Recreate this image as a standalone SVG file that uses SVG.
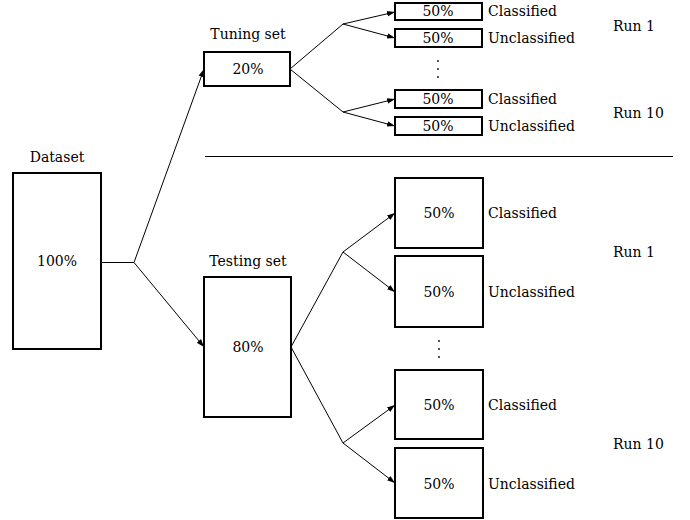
<svg xmlns="http://www.w3.org/2000/svg" width="690" height="520" viewBox="0 0 690 520">
<style>
text{font-family:'DejaVu Serif',serif;font-size:14px;fill:#000}
.c{text-anchor:middle}
.box{fill:#fff;stroke:#000;stroke-width:2}
.ln{fill:none;stroke:#000;stroke-width:1}
</style>
<defs>
<marker id="ah" viewBox="0 0 10 10" refX="10" refY="5" markerWidth="8" markerHeight="8" markerUnits="userSpaceOnUse" orient="auto">
<path d="M0,1.5 L10,5 L0,8.5 z" fill="#000"/>
</marker>
</defs>
<rect width="690" height="520" fill="#fff"/>
<g id="connectors">
<polyline class="ln" points="101,262.5 134,262.5"/>
<line class="ln" x1="134" y1="262.5" x2="204" y2="69" marker-end="url(#ah)"/>
<line class="ln" x1="134" y1="262.5" x2="204" y2="347" marker-end="url(#ah)"/>
<polyline class="ln" points="290,69 343,24"/>
<polyline class="ln" points="290,69 343,112"/>
<line class="ln" x1="343" y1="24" x2="395" y2="12" marker-end="url(#ah)"/>
<line class="ln" x1="343" y1="24" x2="395" y2="38" marker-end="url(#ah)"/>
<line class="ln" x1="343" y1="112" x2="395" y2="99" marker-end="url(#ah)"/>
<line class="ln" x1="343" y1="112" x2="395" y2="126" marker-end="url(#ah)"/>
<polyline class="ln" points="291,347 343,252"/>
<polyline class="ln" points="291,347 343,443"/>
<line class="ln" x1="343" y1="252" x2="395" y2="213" marker-end="url(#ah)"/>
<line class="ln" x1="343" y1="252" x2="395" y2="292" marker-end="url(#ah)"/>
<line class="ln" x1="343" y1="443" x2="395" y2="405" marker-end="url(#ah)"/>
<line class="ln" x1="343" y1="443" x2="395" y2="483" marker-end="url(#ah)"/>
</g>
<line class="ln" x1="205" y1="156.5" x2="673" y2="156.5"/>
<g id="dataset">
<text class="c" x="57" y="162">Dataset</text>
<rect class="box" x="13" y="173" width="88" height="176"/>
<text class="c" x="57" y="266">100%</text>
</g>
<g id="tuning">
<text class="c" x="248" y="39">Tuning set</text>
<rect class="box" x="204" y="52" width="86" height="34"/>
<text class="c" x="248" y="74">20%</text>
</g>
<g id="testing">
<text class="c" x="248" y="266">Testing set</text>
<rect class="box" x="204" y="277" width="87" height="140"/>
<text class="c" x="248" y="352">80%</text>
</g>
<g id="t1">
<rect class="box" x="395" y="3" width="87" height="17"/>
<text class="c" x="438" y="16">50%</text>
<text x="488" y="16">Classified</text>
</g>
<g id="t2">
<rect class="box" x="395" y="29" width="87" height="18"/>
<text class="c" x="438" y="43">50%</text>
<text x="488" y="43">Unclassified</text>
</g>
<g id="t3">
<rect class="box" x="395" y="90" width="87" height="18"/>
<text class="c" x="438" y="104">50%</text>
<text x="488" y="104">Classified</text>
</g>
<g id="t4">
<rect class="box" x="395" y="117" width="87" height="18"/>
<text class="c" x="438" y="131">50%</text>
<text x="488" y="131">Unclassified</text>
</g>
<g id="b1">
<rect class="box" x="395" y="178" width="88" height="70"/>
<text class="c" x="439" y="218">50%</text>
<text x="488" y="218">Classified</text>
</g>
<g id="b2">
<rect class="box" x="395" y="256" width="88" height="71"/>
<text class="c" x="439" y="297">50%</text>
<text x="488" y="297">Unclassified</text>
</g>
<g id="b3">
<rect class="box" x="395" y="370" width="88" height="69"/>
<text class="c" x="439" y="410">50%</text>
<text x="488" y="410">Classified</text>
</g>
<g id="b4">
<rect class="box" x="395" y="448" width="88" height="70"/>
<text class="c" x="439" y="489">50%</text>
<text x="488" y="489">Unclassified</text>
</g>
<g id="dots" fill="#000">
<circle cx="438" cy="61" r="0.9"/><circle cx="438" cy="69" r="0.9"/><circle cx="438" cy="77" r="0.9"/>
<circle cx="439" cy="341" r="0.9"/><circle cx="439" cy="349" r="0.9"/><circle cx="439" cy="357" r="0.9"/>
</g>
<g id="runs">
<text x="613" y="31">Run 1</text>
<text x="613" y="118">Run 10</text>
<text x="613" y="257">Run 1</text>
<text x="613" y="449">Run 10</text>
</g>
</svg>
